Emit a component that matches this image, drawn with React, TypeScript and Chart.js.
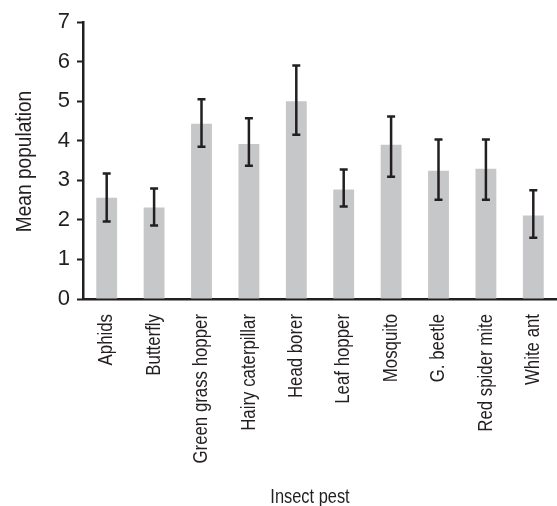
import React, { useEffect, useRef } from "react";
import { Chart, registerables } from "chart.js";

Chart.register(...registerables);

const categories = [
  "Aphids",
  "Butterfly",
  "Green grass hopper",
  "Hairy caterpillar",
  "Head borer",
  "Leaf hopper",
  "Mosquito",
  "G. beetle",
  "Red spider mite",
  "White ant",
];
const meanPopulation = [2.56, 2.31, 4.43, 3.92, 5.0, 2.77, 3.9, 3.24, 3.29, 2.11];
const errorUpper = [3.17, 2.79, 5.05, 4.57, 5.9, 3.27, 4.61, 4.03, 4.03, 2.75];
const errorLower = [1.96, 1.86, 3.85, 3.37, 4.15, 2.34, 3.09, 2.51, 2.51, 1.55];
const yTicks = [0, 1, 2, 3, 4, 5, 6, 7];
const xTitle = "Insect pest";
const yTitle = "Mean population";

const INK = "#231f20";
const FONT = "'Liberation Sans', Arial, sans-serif";
const CONDENSE = 0.82;

const errorBarPlugin = {
  id: "errorBars",
  afterDatasetsDraw(chart: any) {
    const meta = chart.getDatasetMeta(0);
    const y = chart.scales.y;
    const ctx = chart.ctx;
    ctx.save();
    ctx.strokeStyle = INK;
    ctx.lineWidth = 2.5;
    meta.data.forEach((bar: any, i: number) => {
      const x = bar.x;
      const yTop = y.getPixelForValue(errorUpper[i]);
      const yBot = y.getPixelForValue(errorLower[i]);
      ctx.beginPath();
      ctx.moveTo(x, yTop);
      ctx.lineTo(x, yBot);
      ctx.moveTo(x - 4, yTop);
      ctx.lineTo(x + 4, yTop);
      ctx.moveTo(x - 4, yBot);
      ctx.lineTo(x + 4, yBot);
      ctx.stroke();
    });
    ctx.restore();
  },
};

// Narrow-style labels: the reference uses a condensed sans face, emulated by scaling along the text direction.
const condensedTextPlugin = {
  id: "condensedText",
  afterDraw(chart: any) {
    const ctx = chart.ctx;
    const xs = chart.scales.x;
    const area = chart.chartArea;
    ctx.save();
    ctx.fillStyle = INK;

    // x tick labels, rotated, reading upwards
    ctx.font = `20.5px ${FONT}`;
    ctx.textAlign = "right";
    ctx.textBaseline = "middle";
    const labelTop = xs.top + 15;
    chart.data.labels.forEach((label: string, i: number) => {
      const px = xs.getPixelForTick(i);
      ctx.save();
      ctx.translate(px, labelTop);
      ctx.rotate(-Math.PI / 2);
      ctx.scale(CONDENSE, 1);
      ctx.fillText(label, 0, 0);
      ctx.restore();
    });

    // x title
    ctx.font = `20px ${FONT}`;
    ctx.textAlign = "center";
    ctx.textBaseline = "alphabetic";
    ctx.save();
    ctx.translate((area.left + area.right) / 2 - 10, chart.height - 3);
    ctx.scale(CONDENSE, 1);
    ctx.fillText(xTitle, 0, 0);
    ctx.restore();

    // y title
    ctx.font = `22.5px ${FONT}`;
    ctx.save();
    ctx.translate(31, (area.top + area.bottom) / 2 + 1);
    ctx.rotate(-Math.PI / 2);
    ctx.scale(0.85, 1);
    ctx.fillText(yTitle, 0, 0);
    ctx.restore();

    ctx.restore();
  },
};

export default function App() {
  const ref = useRef<HTMLCanvasElement>(null);
  useEffect(() => {
    document.body.style.margin = "0";
    const chart = new Chart(ref.current as HTMLCanvasElement, {
      type: "bar",
      data: {
        labels: categories,
        datasets: [
          {
            data: meanPopulation,
            backgroundColor: "#c6c7c8",
            borderWidth: 0,
            barPercentage: 0.44,
            categoryPercentage: 1,
          },
        ],
      },
      options: {
        responsive: false,
        animation: false,
        events: [],
        layout: { padding: { top: 22, right: 0, left: 0, bottom: 0 } },
        plugins: { legend: { display: false }, tooltip: { enabled: false } },
        scales: {
          x: {
            grid: { display: false, drawTicks: false },
            border: { display: true, color: INK, width: 2.5 },
            ticks: { display: false, autoSkip: false },
            title: { display: false },
            afterFit: (s: any) => {
              s.height = 207;
            },
          },
          y: {
            min: 0,
            max: 7,
            afterBuildTicks: (s: any) => {
              s.ticks = yTicks.map((v) => ({ value: v }));
            },
            grid: {
              display: true,
              drawOnChartArea: false,
              drawTicks: true,
              tickLength: 6,
              tickWidth: 2,
              tickColor: INK,
            },
            border: { display: true, color: INK, width: 2.5 },
            ticks: {
              color: INK,
              font: { family: FONT, size: 22 },
              padding: 7,
            },
            title: { display: false },
            afterFit: (s: any) => {
              s.width = 83;
            },
          },
        },
      },
      plugins: [errorBarPlugin, condensedTextPlugin],
    });
    return () => chart.destroy();
  }, []);
  return (
    <div style={{ width: 557, height: 506 }}>
      <canvas ref={ref} width={557} height={506} style={{ display: "block" }} />
    </div>
  );
}
